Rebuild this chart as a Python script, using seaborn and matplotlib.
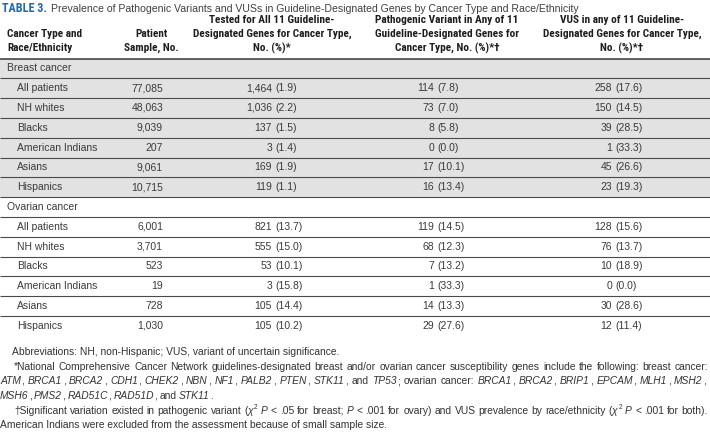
import matplotlib
matplotlib.use("Agg")
import matplotlib.pyplot as plt
import seaborn as sns
from matplotlib import font_manager
from matplotlib.font_manager import FontProperties

# ---------------- data ----------------
title_label = "TABLE 3."
title_text = ("Prevalence of Pathogenic Variants and VUSs in Guideline-Designated Genes "
              "by Cancer Type and Race/Ethnicity")

header_first = ["Cancer Type and", "Race/Ethnicity"]
header_sample = ["Patient", "Sample, No."]
header_tested = ["Tested for All 11 Guideline-", "Designated Genes for Cancer Type,", "No. (%)*"]
header_pv = ["Pathogenic Variant in Any of 11", "Guideline-Designated Genes for", "Cancer Type, No. (%)*\u2020"]
header_vus = ["VUS in any of 11 Guideline-", "Designated Genes for Cancer Type,", "No. (%)*\u2020"]

sections = ["Breast cancer", "Ovarian cancer"]
groups = ["All patients", "NH whites", "Blacks", "American Indians", "Asians", "Hispanics"]

breast_n = [77085, 48063, 9039, 207, 9061, 10715]
breast_tested = [1464, 1036, 137, 3, 169, 119]
breast_tested_pct = [1.9, 2.2, 1.5, 1.4, 1.9, 1.1]
breast_pv = [114, 73, 8, 0, 17, 16]
breast_pv_pct = [7.8, 7.0, 5.8, 0.0, 10.1, 13.4]
breast_vus = [258, 150, 39, 1, 45, 23]
breast_vus_pct = [17.6, 14.5, 28.5, 33.3, 26.6, 19.3]

ovarian_n = [6001, 3701, 523, 19, 728, 1030]
ovarian_tested = [821, 555, 53, 3, 105, 105]
ovarian_tested_pct = [13.7, 15.0, 10.1, 15.8, 14.4, 10.2]
ovarian_pv = [119, 68, 7, 1, 14, 29]
ovarian_pv_pct = [14.5, 12.3, 13.2, 33.3, 13.3, 27.6]
ovarian_vus = [128, 76, 10, 0, 30, 12]
ovarian_vus_pct = [15.6, 13.7, 18.9, 0.0, 28.6, 11.4]

# {...} marks italic text, ^2 a superscript
footnotes = [
    "Abbreviations: NH, non-Hispanic; VUS, variant of uncertain significance.",
    "*National Comprehensive Cancer Network guidelines-designated breast and/or ovarian cancer "
    "susceptibility genes include the following: breast cancer:",
    "{ATM}, {BRCA1}, {BRCA2}, {CDH1}, {CHEK2}, {NBN}, {NF1}, {PALB2}, {PTEN}, {STK11}, and {TP53}; "
    "ovarian cancer: {BRCA1}, {BRCA2}, {BRIP1}, {EPCAM}, {MLH1}, {MSH2},",
    "{MSH6}, {PMS2}, {RAD51C}, {RAD51D}, and {STK11}.",
    "\u2020Significant variation existed in pathogenic variant ({\u03c7}^2 {P} < .05 for breast; "
    "{P} < .001 for ovary) and VUS prevalence by race/ethnicity ({\u03c7}^2 {P} < .001 for both).",
    "American Indians were excluded from the assessment because of small sample size.",
]

# ---------------- styling ----------------
sns.set_theme(style="white")
BODY = "Liberation Sans"
plt.rcParams["font.family"] = [BODY, "DejaVu Sans"]


def find_condensed_bold():
    best = None
    for f in font_manager.fontManager.ttflist:
        w = f.weight
        try:
            w = int(w)
        except (TypeError, ValueError):
            w = 700 if str(w).lower() in ("bold", "demibold", "semibold", "heavy") else 400
        if w < 600 or f.style != "normal":
            continue
        nm = f.name
        cond = (str(f.stretch) in ("condensed", "semi-condensed", "extra-condensed")
                or "Narrow" in nm or "Condensed" in nm or "Cond" in nm)
        if not cond:
            continue
        rank = 0 if "Liberation Sans Narrow" in nm else (1 if "Roboto" in nm else 2)
        if best is None or rank < best[0]:
            best = (rank, f.fname)
    return best[1] if best else None


cf = find_condensed_bold()
HEADFP = FontProperties(fname=cf) if cf else FontProperties(family="Liberation Sans", weight="bold")

W, H = 710, 432
fig = plt.figure(figsize=(W / 100, H / 100), dpi=100)
ax = fig.add_axes([0, 0, 1, 1])
ax.set_xlim(0, W)
ax.set_ylim(H, 0)
ax.axis("off")
renderer = fig.canvas.get_renderer()

PX = 0.72  # points per pixel at 100 dpi
body_fs = 10.4 * PX
body_col = "#3a3a3a"
head_col = "#1e1e1e"
line_col = "#4a4a4a"
foot_col = "#333333"


def width_of(s, **kw):
    t = ax.text(0, 0, s, **kw)
    w = t.get_window_extent(renderer).width
    t.remove()
    return w


# header font size fitted so the widest header line spans the reference width
hp = HEADFP.copy()
hp.set_size(10.6 * PX)
w0 = width_of("Designated Genes for Cancer Type,", fontproperties=hp)
head_fs = min(12.0 * PX, 10.6 * PX * 159.0 / w0)
hp.set_size(head_fs)

# title
tp_ = HEADFP.copy()
tp_.set_size(10.6 * PX)
wl = width_of(title_label, fontproperties=tp_)
tp_.set_size(min(13 * PX, 10.6 * PX * 45.0 / wl))
tl = ax.text(2, 9, title_label, fontproperties=tp_, color="#1f6aa8", va="center", ha="left")
tw = tl.get_window_extent(renderer).width
ax.text(2 + tw + 4, 9.5, title_text, fontsize=10.5 * PX, color="#404040", va="center", ha="left")

# header
hkw = dict(fontproperties=hp, color=head_col, va="center")
hy3 = [20, 34, 48]
for i, s in enumerate(header_first):
    ax.text(7, hy3[i + 1], s, ha="left", **hkw)
for i, s in enumerate(header_sample):
    ax.text(151, hy3[i + 1], s, ha="center", **hkw)
for hdr, cx in [(header_tested, 272), (header_pv, 447), (header_vus, 622)]:
    for i, s in enumerate(hdr):
        ax.text(cx, hy3[i], s, ha="center", **hkw)

# body
row_h = 19.8
top = 58.5
ax.axhspan(top, top + 7 * row_h, color="#e2e2e2", lw=0, zorder=0)

x_sec, x_grp, x_n = 7, 17, 163
paren_x = [275, 437, 615]
bkw = dict(fontsize=body_fs, color=body_col, va="center")

blocks = [
    (breast_n, breast_tested, breast_tested_pct, breast_pv, breast_pv_pct, breast_vus, breast_vus_pct),
    (ovarian_n, ovarian_tested, ovarian_tested_pct, ovarian_pv, ovarian_pv_pct, ovarian_vus, ovarian_vus_pct),
]
r = 0
for sec, blk in zip(sections, blocks):
    yc = top + (r + 0.5) * row_h
    ax.text(x_sec, yc, sec, ha="left", **bkw)
    r += 1
    n, t, tp, pv, pvp, vus, vusp = blk
    for i, g in enumerate(groups):
        yc = top + (r + 0.5) * row_h
        ax.text(x_grp, yc, g, ha="left", **bkw)
        ax.text(x_n, yc, f"{n[i]:,}", ha="right", **bkw)
        for px, cnt, pct in zip(paren_x, (t[i], pv[i], vus[i]), (tp[i], pvp[i], vusp[i])):
            ax.text(px - 3, yc, f"{cnt:,}", ha="right", **bkw)
            ax.text(px, yc, f"({pct:.1f})", ha="left", **bkw)
        r += 1

ax.hlines(top, 0, W, color="#333333", lw=1.5 * PX)
for k in range(1, 14):
    ax.hlines(top + k * row_h, 0, W, color=line_col, lw=1.1 * PX)


# footnotes with italic segments, superscripts and justification
def parse(s):
    ital, buf = False, ""
    tokens, cur = [], []
    i = 0
    while i < len(s):
        c = s[i]
        if c == "{":
            if buf:
                cur.append((buf, ital, False)); buf = ""
            ital = True
        elif c == "}":
            if buf:
                cur.append((buf, ital, False)); buf = ""
            ital = False
        elif c == "^":
            if buf:
                cur.append((buf, ital, False)); buf = ""
            cur.append((s[i + 1], False, True))
            i += 1
        elif c == " ":
            if buf:
                cur.append((buf, ital, False)); buf = ""
            if cur:
                tokens.append(cur)
            cur = []
        else:
            buf += c
        i += 1
    if buf:
        cur.append((buf, ital, False))
    if cur:
        tokens.append(cur)
    return tokens


def piece_kw(fs, ital, sup):
    return dict(fontsize=fs * (0.65 if sup else 1.0), style="italic" if ital else "normal",
                color=foot_col)


def piece_adv(p, fs, it, sp):
    w = width_of(p, **piece_kw(fs, it, sp))
    return w + (0.5 if it else 0.0)


def line_total(toks, fs):
    widths = [[piece_adv(p, fs, it, sp) for p, it, sp in tok] for tok in toks]
    return widths, sum(sum(w) for w in widths)


targets = [(12, None), (14, 708), (0, 706), (0, None), (14, 708), (0, None)]
min_gaps = [0, 2.6, 2.6, 0, 1.8, 0]
parsed = [parse(s) for s in footnotes]

# one common footnote size: first footnote spans x 12..350, justified lines must fit
fs0 = 10.4 * PX
foot_fs = fs0 * 338.0 / width_of(footnotes[0], fontsize=fs0)
for k in (1, 2, 4):
    x0, x1 = targets[k]
    toks = parsed[k]
    for _ in range(40):
        _, tot = line_total(toks, foot_fs)
        if tot + min_gaps[k] * (len(toks) - 1) <= x1 - x0:
            break
        foot_fs *= 0.985

foot_y0, foot_dy = 352, 14.7
for k, (s, toks, (x0, x1)) in enumerate(zip(footnotes, parsed, targets)):
    y = foot_y0 + k * foot_dy
    if "{" not in s and "^" not in s and x1 is None:
        ax.text(x0, y, s, ha="left", va="center", fontsize=foot_fs, color=foot_col)
        continue
    widths, total = line_total(toks, foot_fs)
    if x1 is not None and len(toks) > 1:
        gap = max(1.0, (x1 - x0 - total) / (len(toks) - 1))
    else:
        gap = width_of("n n", fontsize=foot_fs) - 2 * width_of("n", fontsize=foot_fs) - 0.8
    x = x0
    for tok, ws in zip(toks, widths):
        for (p, it, sp), w in zip(tok, ws):
            ax.text(x, y - (3.5 if sp else 0), p, ha="left", va="center", **piece_kw(foot_fs, it, sp))
            x += w
        x += gap

fig.savefig("out.png", dpi=100)
